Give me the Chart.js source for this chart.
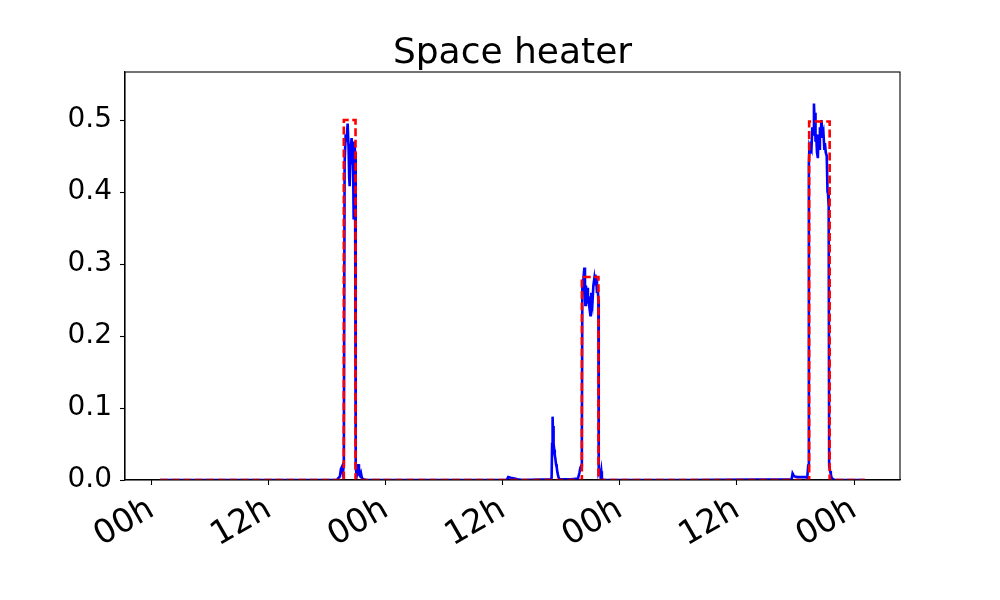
<!DOCTYPE html>
<html>
<head>
<meta charset="utf-8">
<script src="https://cdn.jsdelivr.net/npm/chart.js@4.4.1/dist/chart.umd.min.js"></script>
<style>
  html, body { margin: 0; padding: 0; background: #fff; }
  #wrap { width: 1000px; height: 600px; }
</style>
</head>
<body>
<div id="wrap"><canvas id="chart" width="1000" height="600"></canvas></div>
<script>
// measured power (blue), hours since first midnight
const powerHours = [
  0.88, 10, 19.0, 19.1, 19.3, 19.4, 19.5, 19.6, 19.7, 19.78, 19.89, 19.99, 20.09, 20.19, 20.25,
  20.3, 20.4, 20.5, 20.55, 20.6, 20.65, 20.7, 20.72, 20.78, 20.85, 20.92, 21.01, 21.11, 21.18,
  21.25, 21.35, 21.45, 21.55, 21.7, 22.0, 30, 36.4, 36.55, 36.8, 37.2, 37.5, 38, 40.9, 41.0,
  41.05, 41.1, 41.15, 41.18, 41.22, 41.27, 41.32, 41.38, 41.45, 41.52, 41.6, 41.7, 41.8, 43.0,
  43.7, 43.85, 43.95, 44.05, 44.1, 44.15, 44.26, 44.36, 44.42, 44.46, 44.52, 44.56, 44.67, 44.72,
  44.77, 44.87, 44.97, 45.02, 45.07, 45.12, 45.18, 45.28, 45.38, 45.45, 45.48, 45.58, 45.65,
  45.72, 45.79, 45.83, 45.89, 45.95, 46.02, 46.09, 46.15, 46.3, 55, 65.6, 65.7, 65.78, 65.9,
  66.2, 66.6, 67.0, 67.2, 67.3, 67.37, 67.42, 67.5, 67.58, 67.65, 67.72, 67.8, 67.89, 67.95,
  68.0, 68.05, 68.12, 68.2, 68.29, 68.35, 68.42, 68.5, 68.58, 68.65, 68.72, 68.8, 68.87, 68.95,
  69.01, 69.1, 69.2, 69.28, 69.33, 69.4, 69.45, 69.55, 69.62, 69.7, 69.85, 70.0, 73.1
];
const powerValues = [
  0, 0, 0, 0.002, 0.005, 0.015, 0.018, 0.01, 0.02, 0.44, 0.48, 0.47, 0.495, 0.46, 0.42,
  0.408, 0.46, 0.475, 0.44, 0.47, 0.44, 0.362, 0.45, 0.47, 0.455, 0.02, 0.005, 0.012, 0.022,
  0.008, 0.006, 0.01, 0.003, 0.001, 0, 0, 0, 0.004, 0.003, 0.002, 0.001, 0, 0.001, 0.003,
  0.05, 0.088, 0.06, 0.075, 0.05, 0.042, 0.035, 0.03, 0.022, 0.018, 0.01, 0.004, 0.001, 0.001,
  0.002, 0.01, 0.017, 0.02, 0.05, 0.27, 0.28, 0.295, 0.26, 0.243, 0.27, 0.255, 0.267, 0.245,
  0.255, 0.24, 0.229, 0.245, 0.26, 0.25, 0.245, 0.27, 0.28, 0.272, 0.285, 0.278, 0.26,
  0.27, 0.25, 0.01, 0.012, 0.016, 0.005, 0.012, 0.002, 0, 0, 0.001, 0.009, 0.007, 0.005,
  0.004, 0.004, 0.004, 0.003, 0.02, 0.44, 0.46, 0.455, 0.47, 0.465, 0.49, 0.48, 0.523, 0.5,
  0.51, 0.47, 0.48, 0.455, 0.447, 0.48, 0.46, 0.49, 0.475, 0.5, 0.49, 0.475, 0.48, 0.46,
  0.468, 0.455, 0.45, 0.4, 0.398, 0.38, 0.02, 0.012, 0.008, 0.003, 0.001, 0, 0
];
// on/off estimate (red dashed)
const stepHours = [0.88, 19.7, 19.7, 20.9, 20.9, 44.1, 44.1, 45.8, 45.8, 67.4, 67.4, 69.5, 69.5, 73.1];
const stepValues = [0, 0, 0.5, 0.5, 0, 0, 0.282, 0.282, 0, 0, 0.498, 0.498, 0, 0];

const xTickHours = [0, 12, 24, 36, 48, 60, 72];
const xTickLabels = ["00h", "12h", "00h", "12h", "00h", "12h", "00h"];
const yTickValues = [0, 0.1, 0.2, 0.3, 0.4, 0.5];
const yTickLabels = ["0.0", "0.1", "0.2", "0.3", "0.4", "0.5"];

const titleText = "Space heater";
const fontFamily = "'DejaVu Sans', sans-serif";

function toPoints(xs, ys) {
  return xs.map((x, i) => ({ x: x, y: ys[i] }));
}

const framePlugin = {
  id: "frame",
  afterDraw(chart) {
    const { ctx, chartArea: { top, bottom, left, right } } = chart;
    ctx.save();
    ctx.strokeStyle = "#000";
    ctx.lineWidth = 1.1;
    ctx.strokeRect(left, top, right - left, bottom - top);

    ctx.font = "36px " + fontFamily;
    ctx.fillStyle = "#000";
    ctx.textAlign = "center";
    ctx.textBaseline = "alphabetic";
    ctx.fillText(titleText, (left + right) / 2, top - 9);
    ctx.restore();
  },
};

const ctx = document.getElementById("chart").getContext("2d");

new Chart(ctx, {
  type: "line",
  plugins: [framePlugin],
  data: {
    datasets: [
      {
        label: "estimate",
        data: toPoints(stepHours, stepValues),
        borderColor: "#ff0000",
        borderWidth: 2.6,
        borderDash: [8, 3.5],
        pointRadius: 0,
        fill: false,
        order: 0,
      },
      {
        label: "power",
        data: toPoints(powerHours, powerValues),
        borderColor: "#0000ff",
        borderWidth: 2.6,
        pointRadius: 0,
        fill: false,
        order: 1,
      },
    ],
  },
  options: {
    responsive: false,
    devicePixelRatio: 1,
    animation: false,
    layout: { padding: { left: 0, right: 100, top: 72, bottom: 0 } },
    plugins: {
      legend: { display: false },
      tooltip: { enabled: false },
    },
    elements: { line: { tension: 0 } },
    scales: {
      x: {
        type: "linear",
        min: -2.73,
        max: 76.71,
        afterFit: (scale) => { scale.height = 120; },
        afterBuildTicks: (scale) => {
          scale.ticks = xTickHours.map((v) => ({ value: v }));
        },
        grid: {
          display: true,
          drawOnChartArea: false,
          drawTicks: true,
          tickLength: 5,
          tickColor: "#000",
          tickWidth: 1.1,
        },
        border: { display: true, color: "#000", width: 1.1 },
        ticks: {
          autoSkip: false,
          minRotation: 30,
          maxRotation: 30,
          padding: 5,
          color: "#000",
          font: { family: fontFamily, size: 33 },
          callback: (value) => xTickLabels[xTickHours.indexOf(value)],
        },
      },
      y: {
        min: 0,
        max: 0.5667,
        afterFit: (scale) => { scale.width = 125; },
        afterBuildTicks: (scale) => {
          scale.ticks = yTickValues.map((v) => ({ value: v }));
        },
        grid: {
          display: true,
          drawOnChartArea: false,
          drawTicks: true,
          tickLength: 5,
          tickColor: "#000",
          tickWidth: 1.1,
        },
        border: { display: true, color: "#000", width: 1.1 },
        ticks: {
          padding: 8,
          color: "#000",
          font: { family: fontFamily, size: 28 },
          callback: (value) => yTickLabels[yTickValues.indexOf(value)],
        },
      },
    },
  },
});
</script>
</body>
</html>
